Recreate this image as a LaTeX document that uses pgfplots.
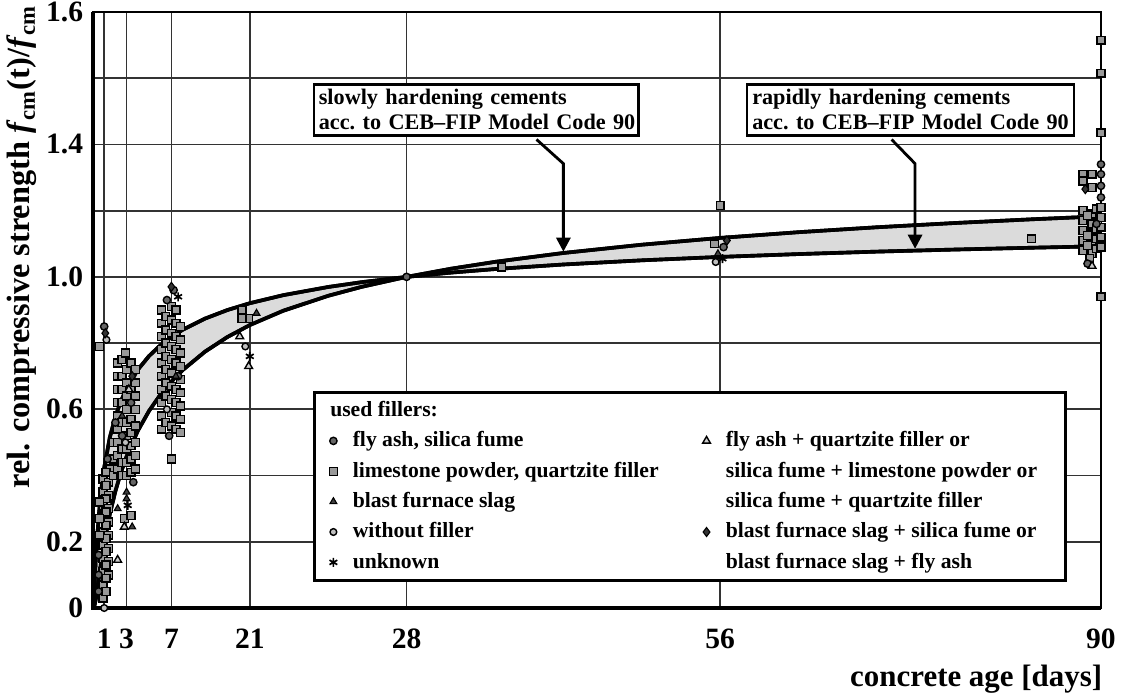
\documentclass[border=0pt]{standalone}
\usepackage{fontspec}
\setmainfont{Liberation Serif}
\usepackage{pgfplots}
\pgfplotsset{compat=1.18}
\usepgfplotslibrary{fillbetween}
\usetikzlibrary{arrows.meta}
\begin{document}
\begin{tikzpicture}
\begin{axis}[
  at={(1.1625cm,1.1125cm)}, anchor=south west,
  scale only axis, width=12.6cm, height=7.45cm,
  xmin=0, xmax=90, ymin=0, ymax=1.8,
  clip=false,
  xtick={1,3,7,14,28,56,90}, xticklabels={1,3,7,21,28,56,90},
  ytick={0,0.2,0.4,0.6,0.8,1.0,1.2,1.4,1.6,1.8},
  yticklabels={0,0.2,,0.6,,1.0,,1.4,,1.6},
  grid=major, grid style={black!80, line width=0.6pt},
  axis line style={black, line width=0.6pt},
  major tick length=0pt,
  tick label style={font=\fontsize{10.5}{12}\selectfont\bfseries},
  xticklabel style={yshift=-4pt},
  xlabel={concrete age [days]},
  xlabel style={at={(axis description cs:1.011,-0.12)}, anchor=east, font=\fontsize{11}{13}\selectfont\bfseries},
  ylabel={rel. compressive strength \textit{f}\textsubscript{cm}(t)/\textit{f}\textsubscript{cm}},
  ylabel style={at={(axis description cs:-0.0704,0.606)}, anchor=center, font=\fontsize{11.5}{13}\selectfont\bfseries},
  legend columns=2, legend cell align=left,
  legend image code/.code={\path[draw=none,fill=none] (0cm,-0.05cm) rectangle (0.3cm,0.05cm);\draw[mark repeat=1,mark phase=1,#1] plot coordinates {(0.1cm,0cm)};},
  legend style={at={(axis description cs:0.218,0.044)}, anchor=south west, draw=black, line width=1pt, fill=white,
    inner xsep=4pt, inner ysep=1pt,
    font=\fontsize{7.7}{9}\selectfont\bfseries,
    nodes={inner sep=1.2pt, text height=6.3pt, text depth=2.1pt},
    /tikz/every even column/.append style={column sep=13pt}},
]
% CEB-FIP curves (values computed beforehand)
\addplot[name path=rapid, black, line width=1.3pt, forget plot] coordinates {
(0,0) (0.1,0.0430) (0.25,0.1471) (0.5,0.2735) (0.75,0.3599) (1,0.4239) (1.5,0.5148) (2,0.5779) (2.5,0.6254) (3,0.6630) (4,0.7195) (5,0.7609) (6,0.7929) (7,0.8187) (8,0.8402) (10,0.8740) (12,0.8999) (14,0.9205) (17,0.9449) (21,0.9695) (24,0.9841) (28,1.0) (32,1.0130) (36,1.0239) (42,1.0374) (49,1.0500) (56,1.0603) (63,1.0689) (70,1.0763) (77,1.0826) (84,1.0882) (90,1.0925)};
\addplot[name path=slow, black, line width=1.3pt, forget plot] coordinates {
(0,0) (0.1,0.0025) (0.25,0.0262) (0.5,0.0851) (0.75,0.1434) (1,0.1958) (1.5,0.2832) (2,0.3528) (2.5,0.4100) (3,0.4580) (4,0.5350) (5,0.5950) (6,0.6435) (7,0.6839) (8,0.7183) (10,0.7742) (12,0.8184) (14,0.8544) (17,0.8979) (21,0.9429) (24,0.9700) (28,1.0) (32,1.0249) (36,1.0459) (42,1.0722) (49,1.0972) (56,1.1177) (63,1.1350) (70,1.1499) (77,1.1628) (84,1.1742) (90,1.1830)};
\addplot[fill=black!14, draw=none, forget plot] fill between[of=rapid and slow];
\addplot[black, line width=1.3pt, forget plot] coordinates {
(0,0) (0.1,0.0430) (0.25,0.1471) (0.5,0.2735) (0.75,0.3599) (1,0.4239) (1.5,0.5148) (2,0.5779) (2.5,0.6254) (3,0.6630) (4,0.7195) (5,0.7609) (6,0.7929) (7,0.8187) (8,0.8402) (10,0.8740) (12,0.8999) (14,0.9205) (17,0.9449) (21,0.9695) (24,0.9841) (28,1.0) (32,1.0130) (36,1.0239) (42,1.0374) (49,1.0500) (56,1.0603) (63,1.0689) (70,1.0763) (77,1.0826) (84,1.0882) (90,1.0925)};
\addplot[black, line width=1.3pt, forget plot] coordinates {
(0,0) (0.1,0.0025) (0.25,0.0262) (0.5,0.0851) (0.75,0.1434) (1,0.1958) (1.5,0.2832) (2,0.3528) (2.5,0.4100) (3,0.4580) (4,0.5350) (5,0.5950) (6,0.6435) (7,0.6839) (8,0.7183) (10,0.7742) (12,0.8184) (14,0.8544) (17,0.8979) (21,0.9429) (24,0.9700) (28,1.0) (32,1.0249) (36,1.0459) (42,1.0722) (49,1.0972) (56,1.1177) (63,1.1350) (70,1.1499) (77,1.1628) (84,1.1742) (90,1.1830)};
% limestone powder, quartzite filler
\addplot[only marks, mark=square*, mark size=1.4pt, mark options={fill=black!40, draw=black, line width=0.5pt}, forget plot] coordinates {
(0.9,0.03) (0.9,0.07) (0.9,0.11) (0.9,0.15) (0.9,0.19) (0.9,0.23) (0.9,0.27) (0.9,0.31) (0.9,0.35) (0.9,0.39)
(1.4,0.10) (1.4,0.14) (1.4,0.18) (1.4,0.22) (1.4,0.26) (1.4,0.30) (1.4,0.34) (1.4,0.38) (1.5,0.42)
(1.15,0.05) (1.15,0.09) (1.15,0.13) (1.15,0.17) (1.15,0.21) (1.15,0.25) (1.15,0.29) (1.15,0.33) (1.15,0.37) (1.15,0.41)
(0.6,0.22) (0.6,0.27) (0.6,0.32) (0.6,0.79)
(1.8,0.40) (1.8,0.45) (1.8,0.50)
(2.2,0.42) (2.2,0.46) (2.2,0.50) (2.2,0.54) (2.2,0.58) (2.2,0.62) (2.2,0.66) (2.2,0.70) (2.2,0.74)
(2.6,0.40) (2.6,0.44) (2.6,0.48) (2.6,0.56) (2.6,0.62) (2.6,0.66) (2.6,0.70) (2.6,0.75)
(3.0,0.40) (3.0,0.44) (3.0,0.48) (3.0,0.52) (3.0,0.56) (3.0,0.60) (3.0,0.64) (3.0,0.68) (3.0,0.72) (2.9,0.77)
(3.4,0.41) (3.4,0.45) (3.4,0.49) (3.4,0.53) (3.4,0.57) (3.4,0.66) (3.4,0.74)
(3.8,0.42) (3.8,0.46) (3.8,0.50) (3.8,0.55) (3.8,0.60) (3.8,0.64) (3.8,0.68) (3.8,0.72)
(2.8,0.27) (3.4,0.28)
(6.1,0.54) (6.1,0.58) (6.1,0.62) (6.1,0.66) (6.1,0.70) (6.1,0.74) (6.1,0.78) (6.1,0.82) (6.1,0.86) (6.1,0.90)
(6.5,0.56) (6.5,0.64) (6.5,0.68) (6.5,0.72) (6.5,0.76) (6.5,0.80) (6.5,0.84) (6.5,0.88)
(7.0,0.55) (7.0,0.59) (7.0,0.63) (7.0,0.67) (7.0,0.71) (7.0,0.75) (7.0,0.79) (7.0,0.83) (7.0,0.87) (7.0,0.91) (7.0,0.45)
(7.4,0.54) (7.4,0.58) (7.4,0.62) (7.4,0.66) (7.4,0.74) (7.4,0.78) (7.4,0.82) (7.4,0.86) (7.4,0.90)
(7.8,0.53) (7.8,0.57) (7.8,0.61) (7.8,0.65) (7.8,0.69) (7.8,0.73) (7.8,0.77) (7.8,0.81) (7.8,0.85)
(13.3,0.90) (13.9,0.875) (13.3,0.875)
(36.5,1.03) (55.5,1.10) (56,1.215) (83.8,1.115)
(88.4,1.31) (89.2,1.31) (88.4,1.29) (89.2,1.27)
(88.4,1.08) (88.4,1.11) (88.4,1.14) (88.4,1.17) (88.4,1.20) (89.2,1.07) (89.2,1.10) (89.2,1.13) (89.2,1.16) (89.2,1.19)
(88.8,1.095) (88.8,1.125) (88.8,1.185) (89.6,1.085) (89.6,1.115) (89.6,1.145) (89.6,1.205)
(90,1.09) (90,1.12) (90,1.15) (90,1.18) (90,1.21) (89.0,1.055)
(90,1.715) (90,1.615) (90,1.435) (90,0.94)};
% fly ash, silica fume
\addplot[only marks, mark=*, mark size=1.3pt, mark options={fill=black!60, draw=black, line width=0.5pt}, forget plot] coordinates {
(1.0,0.85) (0.5,0.05) (0.5,0.10) (0.5,0.16) (2.6,0.52) (3.4,0.62) (7.2,0.96) (6.6,0.93) (28,1.0) (56.3,1.09)
(1.3,0.45) (2.0,0.56) (3.6,0.38) (6.8,0.52) (7.6,0.70)
(90,1.34) (90,1.31) (90,1.275) (90,1.24) (89.6,1.16) (88.8,1.04)};
% blast furnace slag
\addplot[only marks, mark=triangle*, mark size=1.4pt, mark options={fill=black!75, draw=black, line width=0.4pt}, forget plot] coordinates {
(3.0,0.35) (3.0,0.33) (2.2,0.30) (3.5,0.245) (14.6,0.89) (55.8,1.07) (2.6,0.58) (7.4,0.70)};
% without filler
\addplot[only marks, mark=*, mark size=1.2pt, mark options={fill=black!25, draw=black, line width=0.5pt}, forget plot] coordinates {
(1.2,0.81) (2.9,0.50) (13.6,0.79) (55.6,1.045) (6.6,0.60) (1.0,0.0)};
% unknown
\addplot[only marks, mark=asterisk, mark size=1.6pt, mark options={draw=black, line width=0.6pt}, forget plot] coordinates {
(14,0.76) (56.2,1.055) (3.1,0.31) (7.6,0.94)};
% fly ash + quartzite filler etc.
\addplot[only marks, mark=triangle*, mark size=1.6pt, mark options={fill=black!20, draw=black, line width=0.5pt}, forget plot] coordinates {
(2.2,0.145) (13.1,0.82) (13.9,0.73) (2.8,0.245) (89.2,1.033) (3.2,0.66)};
% blast furnace slag + silica fume etc.
\addplot[only marks, mark=diamond*, mark size=1.6pt, mark options={fill=black!80, draw=black, line width=0.4pt}, forget plot] coordinates {
(7.0,0.97) (1.1,0.83) (56.6,1.11) (88.6,1.265) (3.5,0.70)};
% legend
\addlegendimage{empty legend}\addlegendentry{\hspace*{-8pt}used fillers:}
\addlegendimage{empty legend}\addlegendentry{\strut}
\addlegendimage{only marks, mark=*, mark size=1.3pt, line width=0.5pt, mark options={fill=black!60, draw=black}}\addlegendentry{fly ash, silica fume}
\addlegendimage{only marks, mark=triangle*, mark size=1.6pt, line width=0.5pt, mark options={fill=black!20, draw=black}}\addlegendentry{fly ash + quartzite filler or}
\addlegendimage{only marks, mark=square*, mark size=1.4pt, line width=0.5pt, mark options={fill=black!40, draw=black}}\addlegendentry{limestone powder, quartzite filler}
\addlegendimage{empty legend}\addlegendentry{silica fume + limestone powder or\hspace*{5pt}}
\addlegendimage{only marks, mark=triangle*, mark size=1.4pt, line width=0.4pt, mark options={fill=black!75, draw=black}}\addlegendentry{blast furnace slag}
\addlegendimage{empty legend}\addlegendentry{silica fume + quartzite filler}
\addlegendimage{only marks, mark=*, mark size=1.2pt, line width=0.5pt, mark options={fill=black!25, draw=black}}\addlegendentry{without filler}
\addlegendimage{only marks, mark=diamond*, mark size=1.6pt, line width=0.4pt, mark options={fill=black!80, draw=black}}\addlegendentry{blast furnace slag + silica fume or}
\addlegendimage{only marks, mark=asterisk, mark size=1.6pt, line width=0.6pt, mark options={draw=black}}\addlegendentry{unknown}
\addlegendimage{empty legend}\addlegendentry{blast furnace slag + fly ash}
% thick left and bottom axis
\draw[line width=1.4pt] (rel axis cs:0,1) -- (rel axis cs:0,0) -- (rel axis cs:1,0);
% annotations
\node[draw, line width=0.9pt, fill=white, anchor=north west, text width=3.93cm, inner sep=1.8pt, align=left, font=\fontsize{7.9}{8.9}\selectfont\bfseries\frenchspacing] at (axis cs:19.6,1.585) {\mbox{slowly hardening cements}\\\mbox{acc. to CEB--FIP Model Code 90}};
\node[draw, line width=0.9pt, fill=white, anchor=north west, text width=3.96cm, inner sep=1.8pt, align=left, font=\fontsize{7.9}{8.9}\selectfont\bfseries\frenchspacing] at (axis cs:58.3,1.585) {\mbox{rapidly hardening cements}\\\mbox{acc. to CEB--FIP Model Code 90}};
\draw[line width=1pt, -{Triangle[length=5pt,width=5pt]}] (axis cs:39.6,1.415) -- (axis cs:42,1.342) -- (axis cs:42,1.076);
\draw[line width=1pt, -{Triangle[length=5pt,width=5pt]}] (axis cs:71.3,1.415) -- (axis cs:73.4,1.342) -- (axis cs:73.4,1.085);
\end{axis}
\pgfresetboundingbox
\path[use as bounding box] (0,0) rectangle (14.025cm,8.7125cm);
\end{tikzpicture}
\end{document}
